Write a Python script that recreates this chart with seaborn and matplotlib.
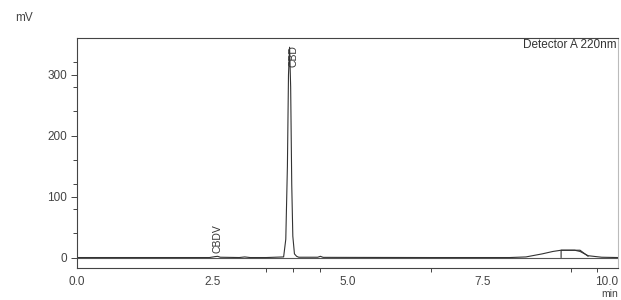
import matplotlib
matplotlib.use("Agg")
import matplotlib.pyplot as plt
import seaborn as sns
import pandas as pd

# chromatogram trace (min, mV)
time_min = [0.0, 2.45, 2.55, 2.6, 2.65, 3.0, 3.1, 3.2, 3.5, 3.82, 3.86, 3.89,
            3.91, 3.93, 3.95, 3.97, 3.99, 4.02, 4.06, 4.1, 4.45, 4.5, 4.55,
            6.5, 8.0, 8.3, 8.6, 8.8, 8.95, 9.2, 9.3, 9.45, 9.7, 10.0]
signal_mv = [0.0, 0.0, 1.5, 2.0, 0.5, 0.0, 1.0, 0.0, 0.0, 1.0, 30.0, 150.0,
             300.0, 345.0, 280.0, 120.0, 35.0, 6.0, 2.0, 0.5, 0.5, 2.0, 0.3,
             0.0, 0.0, 1.0, 6.0, 10.0, 12.0, 12.0, 10.0, 3.0, 0.5, 0.0]

# integration box at the end of the run
box_t = [8.95, 8.95, 9.3, 9.45]
box_v = [0.0, 12.0, 12.0, 2.0]

peak_names = ["CBDV", "CBD"]
peak_times = [2.6, 4.0]
peak_label_y = [7, 312]

event_ticks = [3.5, 4.0, 4.5, 6.55, 9.13, 9.62]

df = pd.DataFrame({"t": time_min, "mv": signal_mv})

sns.set_style("ticks")
plt.rcParams["font.family"] = ["Liberation Sans", "DejaVu Sans"]

fig = plt.figure(figsize=(6.21, 3.0), dpi=100)
ax = fig.add_axes([0.124, 0.107, 0.871, 0.766])

sns.lineplot(data=df, x="t", y="mv", ax=ax, color="#333333", linewidth=0.8)
ax.plot(box_t, box_v, color="#333333", linewidth=0.8)
ax.axhline(0, color="#555555", linewidth=0.8, zorder=0)

for name, t, y in zip(peak_names, peak_times, peak_label_y):
    ax.text(t, y, name, rotation=90, fontsize=7.5, color="#333333",
            ha="center", va="bottom")

ax.text(0.998, 0.997, "Detector A 220nm", transform=ax.transAxes,
        ha="right", va="top", fontsize=8.5, color="#333333")

ax.set_xlim(0, 10)
ax.set_ylim(-17, 360)
ax.set_xticks([0, 2.5, 5.0, 7.5, 10.0])
ax.set_xticklabels(["0.0", "2.5", "5.0", "7.5", "10.0"])
ax.get_xticklabels()[-1].set_horizontalalignment("right")
ax.set_xticks(event_ticks, minor=True)
ax.set_yticks([0, 100, 200, 300])
ax.set_yticks([40, 80, 120, 160, 240, 280, 320], minor=True)
ax.tick_params(axis="both", labelsize=8.5, colors="#444444", width=0.7,
               length=4, pad=3)
ax.tick_params(axis="x", which="major", length=0, pad=6)
ax.tick_params(axis="both", which="minor", length=3, width=0.7,
               color="#444444")
ax.set_xlabel("")
ax.set_ylabel("")

for side in ["left", "bottom", "top"]:
    ax.spines[side].set_color("#444444")
    ax.spines[side].set_linewidth(0.8)
ax.spines["right"].set_color("#bbbbbb")
ax.spines["right"].set_linewidth(0.8)

fig.text(15 / 621, 1 - 18 / 300, "mV", fontsize=8.5, color="#444444",
         ha="left", va="center")
fig.text(618 / 621, 0.004, "min", fontsize=7.5, color="#444444",
         ha="right", va="bottom")

fig.savefig("out.png", dpi=100, facecolor="white")
